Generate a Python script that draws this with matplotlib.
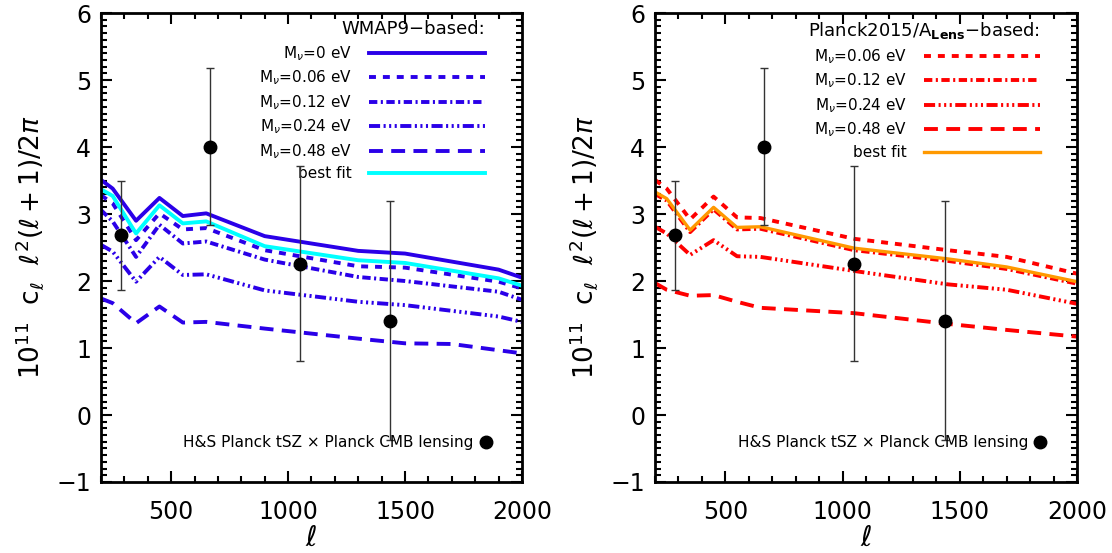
import matplotlib
matplotlib.use('Agg')
import matplotlib.pyplot as plt
from matplotlib.lines import Line2D
from matplotlib.ticker import MultipleLocator

# multipoles at which the model curves were tabulated
ell_wmap = [200, 250, 350, 450, 550, 650, 900, 1300, 1500, 1900, 2000]
ell_wmap_048 = [200, 250, 350, 450, 550, 650, 900, 1300, 1500, 1700, 2000]
ell_planck = [200, 250, 350, 450, 550, 650, 1050, 1450, 1700, 2000]

# WMAP9-based models, 1e11 C_l l^2 (l+1) / 2pi
wmap_m000 = [3.51, 3.38, 2.90, 3.24, 2.97, 3.01, 2.67, 2.45, 2.41, 2.17, 2.05]
wmap_m006 = [3.28, 3.16, 2.61, 3.01, 2.77, 2.79, 2.46, 2.22, 2.20, 1.99, 1.89]
wmap_m012 = [3.06, 2.89, 2.36, 2.84, 2.56, 2.59, 2.32, 2.06, 2.00, 1.84, 1.72]
wmap_m024 = [2.54, 2.44, 1.99, 2.36, 2.09, 2.10, 1.86, 1.69, 1.64, 1.47, 1.39]
wmap_m048 = [1.74, 1.67, 1.37, 1.62, 1.38, 1.39, 1.29, 1.14, 1.07, 1.06, 0.92]
wmap_best = [3.37, 3.27, 2.71, 3.13, 2.86, 2.89, 2.52, 2.31, 2.27, 2.04, 1.93]

# Planck2015/A_Lens-based models
planck_m006 = [3.51, 3.38, 2.92, 3.26, 2.95, 2.94, 2.63, 2.46, 2.36, 2.11]
planck_m012 = [3.30, 3.20, 2.73, 3.07, 2.77, 2.78, 2.46, 2.30, 2.18, 1.96]
planck_m024 = [2.81, 2.71, 2.39, 2.61, 2.37, 2.36, 2.15, 1.95, 1.87, 1.66]
planck_m048 = [1.97, 1.87, 1.78, 1.79, 1.69, 1.60, 1.52, 1.36, 1.27, 1.17]
planck_best = [3.33, 3.23, 2.76, 3.10, 2.80, 2.81, 2.49, 2.33, 2.21, 1.99]

# H&S Planck tSZ x Planck CMB lensing measurement
data_ell = [285, 665, 1050, 1435]
data_val = [2.68, 4.00, 2.26, 1.41]
data_lo = [1.87, 2.84, 0.81, -0.37]
data_hi = [3.50, 5.18, 3.72, 3.20]

plt.rcParams['font.family'] = 'DejaVu Sans'
plt.rcParams['mathtext.fontset'] = 'dejavusans'
plt.rcParams['lines.scale_dashes'] = False

BLUE = '#2a00e8'
CYAN = '#00ffff'
RED = '#ff0000'
ORANGE = '#ff9900'

DASH = (0, (5, 5))
DASHDOT = (0, (6, 2.5, 1.5, 2.5))
DASH3DOT = (0, (8, 2.5, 1.5, 2.5, 1.5, 2.5, 1.5, 2.5))
LONGDASH = (0, (10, 6))
LW = 2.8

fig = plt.figure(figsize=(11.12, 5.53), dpi=100)
ax1 = fig.add_axes([0.0908, 0.1284, 0.3786, 0.848])
ax2 = fig.add_axes([0.589, 0.1284, 0.3795, 0.848])

def style_axes(ax):
    ax.set_xlim(200, 2000)
    ax.set_ylim(-1, 6)
    ax.xaxis.set_major_locator(MultipleLocator(500))
    ax.xaxis.set_minor_locator(MultipleLocator(100))
    ax.yaxis.set_major_locator(MultipleLocator(1))
    ax.yaxis.set_minor_locator(MultipleLocator(0.1))
    ax.tick_params(which='both', direction='in', top=True, right=True, width=1.5)
    ax.tick_params(which='major', length=8)
    ax.tick_params(which='minor', length=4)
    ax.tick_params(axis='x', labelsize=17, pad=13)
    ax.tick_params(axis='y', labelsize=17, pad=7)
    for sp in ax.spines.values():
        sp.set_linewidth(2)
    ax.set_xlabel(r'$\ell$', fontsize=20, labelpad=0)
    ax.set_ylabel(r'10$^{11}$  c$_\ell$  $\ell^2(\ell+1)/2\pi$', fontsize=19, labelpad=8)

def draw_data(ax):
    yerr = [[v - lo for v, lo in zip(data_val, data_lo)],
            [hi - v for v, hi in zip(data_val, data_hi)]]
    ax.errorbar(data_ell, data_val, yerr=yerr, fmt='o', color='black', ms=9,
                ecolor='#333333', elinewidth=1, capsize=3, capthick=1, zorder=5)
    h = Line2D([], [], ls='none', marker='o', color='black', ms=9)
    leg = ax.legend([h], ['H&S Planck tSZ \u00d7 Planck CMB lensing'], loc='lower right',
                    bbox_to_anchor=(0.928, 0.068), frameon=False, markerfirst=False,
                    handlelength=0.8, handletextpad=0.4, fontsize=11,
                    borderpad=0, borderaxespad=0)
    return leg

LEG_KW = dict(loc='upper right', bbox_to_anchor=(0.912, 0.985), frameon=False,
              markerfirst=False, title_fontsize=13, alignment='right', fontsize=11,
              handlelength=7.6, handletextpad=1.1, labelspacing=0.38,
              borderpad=0, borderaxespad=0)

# left panel: WMAP9-based
style_axes(ax1)
ax1.plot(ell_wmap, wmap_m000, color=BLUE, lw=LW, ls='-', label=r'M$_\nu$=0 eV')
ax1.plot(ell_wmap, wmap_m006, color=BLUE, lw=LW, ls=DASH, label=r'M$_\nu$=0.06 eV')
ax1.plot(ell_wmap, wmap_m012, color=BLUE, lw=LW, ls=DASHDOT, label=r'M$_\nu$=0.12 eV')
ax1.plot(ell_wmap, wmap_m024, color=BLUE, lw=LW, ls=DASH3DOT, label=r'M$_\nu$=0.24 eV')
ax1.plot(ell_wmap_048, wmap_m048, color=BLUE, lw=LW, ls=LONGDASH, label=r'M$_\nu$=0.48 eV')
ax1.plot(ell_wmap, wmap_best, color=CYAN, lw=LW, ls='-', label='best fit')
leg1 = ax1.legend(title='WMAP9\u2212based:', **LEG_KW)
ax1.add_artist(leg1)
draw_data(ax1)

# right panel: Planck2015/A_Lens-based
style_axes(ax2)
ax2.plot(ell_planck, planck_m006, color=RED, lw=LW, ls=DASH, label=r'M$_\nu$=0.06 eV')
ax2.plot(ell_planck, planck_m012, color=RED, lw=LW, ls=DASHDOT, label=r'M$_\nu$=0.12 eV')
ax2.plot(ell_planck, planck_m024, color=RED, lw=LW, ls=DASH3DOT, label=r'M$_\nu$=0.24 eV')
ax2.plot(ell_planck, planck_m048, color=RED, lw=LW, ls=LONGDASH, label=r'M$_\nu$=0.48 eV')
ax2.plot(ell_planck, planck_best, color=ORANGE, lw=2.4, ls='-', label='best fit')
leg2 = ax2.legend(title='Planck2015/A$_{\\mathbf{Lens}}$\u2212based:', **LEG_KW)
ax2.add_artist(leg2)
draw_data(ax2)

fig.savefig('out.png', dpi=100)
